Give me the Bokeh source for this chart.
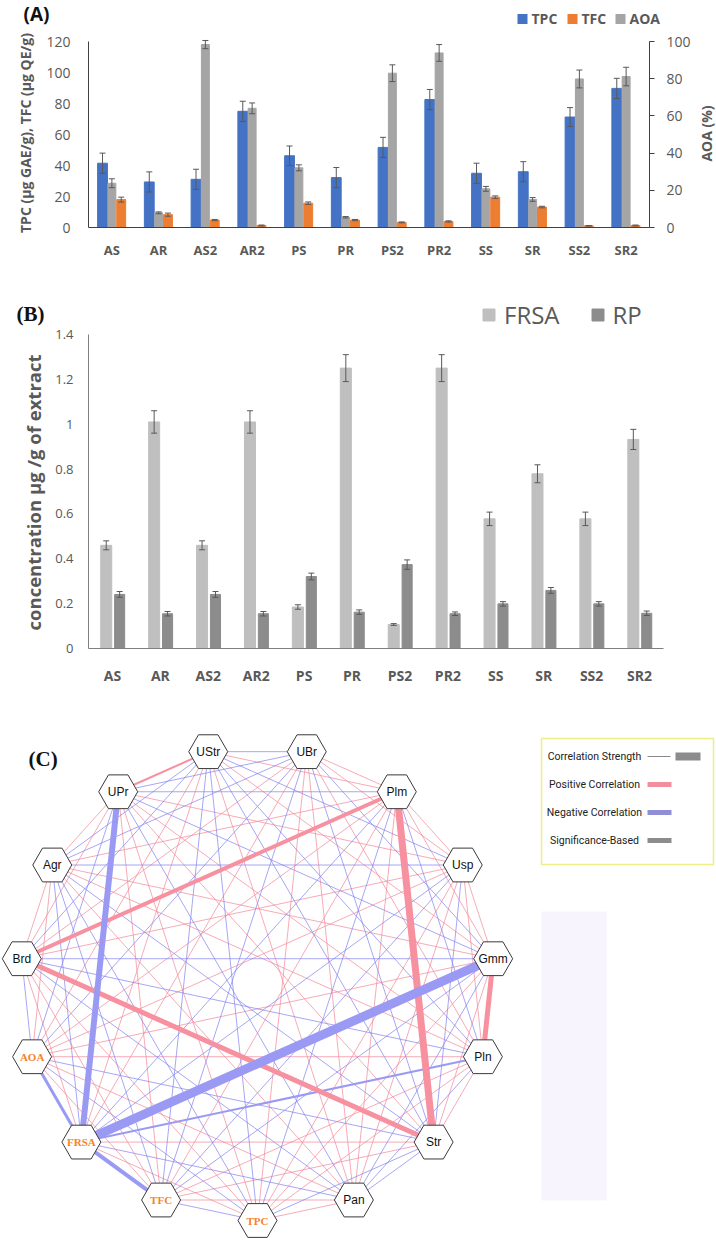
import math
from bokeh.plotting import figure
from bokeh.models import Range1d, LinearAxis, FixedTicker, Legend, LegendItem
from bokeh.layouts import column, row
from bokeh.embed import file_html
from bokeh.resources import INLINE
from bokeh.core.properties import value

# ---------------- data ----------------
samples = ["AS", "AR", "AS2", "AR2", "PS", "PR", "PS2", "PR2", "SS", "SR", "SS2", "SR2"]

# Panel A
series_a = ["TPC", "TFC", "AOA"]
tpc = [41.5, 29.4, 31.1, 75.0, 46.3, 32.2, 51.7, 82.6, 35.0, 36.0, 71.3, 89.8]
tpc_err = [6.5, 6.5, 6.5, 6.5, 6.3, 6.5, 6.5, 6.5, 6.5, 6.5, 6.1, 6.5]
tfc = [18.0, 8.3, 4.8, 1.3, 15.7, 4.8, 3.3, 3.9, 19.6, 13.2, 1.1, 1.3]
tfc_err = [1.6, 1.0, 0.4, 0.3, 0.8, 0.4, 0.3, 0.4, 0.8, 0.5, 0.2, 0.3]
aoa = [23.8, 7.9, 98.4, 64.1, 32.1, 5.5, 83.0, 93.9, 20.8, 15.1, 79.9, 81.2]
aoa_err = [2.4, 0.5, 2.2, 2.9, 1.6, 0.4, 4.5, 4.5, 1.3, 1.0, 4.8, 5.0]

# Panel B
series_b = ["FRSA", "RP"]
frsa = [0.46, 1.01, 0.46, 1.01, 0.185, 1.25, 0.107, 1.25, 0.578, 0.779, 0.578, 0.932]
frsa_err = [0.02, 0.05, 0.02, 0.05, 0.01, 0.06, 0.004, 0.06, 0.03, 0.04, 0.03, 0.045]
rp = [0.241, 0.155, 0.241, 0.155, 0.321, 0.162, 0.374, 0.155, 0.199, 0.259, 0.199, 0.157]
rp_err = [0.013, 0.01, 0.013, 0.01, 0.015, 0.01, 0.021, 0.008, 0.01, 0.013, 0.01, 0.01]

# Panel C (network, nodes clockwise from top)
nodes = ["UBr", "Plm", "Usp", "Gmm", "Pln", "Str", "Pan", "TPC", "TFC", "FRSA", "AOA", "Brd", "Agr", "UPr", "UStr"]
activity_nodes = ["TPC", "TFC", "FRSA", "AOA"]
# sign of the correlation to every later node in the list (p = positive, n = negative)
edge_signs = [
    "ppnpnppnpnpnnn",
    "ppnppnpnpppnp",
    "ppnppnnppnpn",
    "ppnpnnpnpnp",
    "pnppnpnppn",
    "nnppnpnpn",
    "ppnpnpnp",
    "npnpnpn",
    "nppnpn",
    "npnnp",
    "npnp",
    "ppn",
    "pn",
    "p",
]
strong_r = [
    ("Gmm", "FRSA", -0.98), ("Plm", "Str", 0.91), ("UPr", "FRSA", -0.875),
    ("Brd", "Str", 0.84), ("Gmm", "Pln", 0.84), ("Brd", "Plm", 0.805),
    ("FRSA", "TFC", -0.805), ("AOA", "FRSA", -0.77), ("Pln", "FRSA", -0.735),
    ("UPr", "UStr", 0.735),
]
legend_c = ["Correlation Strength", "Positive Correlation", "Negative Correlation", "Significance-Based"]

GREY = "#595959"
AXIS = "#404040"
W = 716
n = len(samples)
centers = [i + 0.5 for i in range(n)]
overrides = {c: s for c, s in zip(centers, samples)}


def noalign(f):
    try:
        f.frame_align = False
    except Exception:
        pass
    return f


def header(h, w=W):
    f = figure(width=w, height=h, x_range=Range1d(0, w), y_range=Range1d(h, 0),
               output_backend="svg", toolbar_location=None, x_axis_type=None, y_axis_type=None,
               min_border=0)
    f.xgrid.visible = False
    f.ygrid.visible = False
    f.outline_line_color = None
    return noalign(f)


def add_err(p, xs, ys, es, range_name="default"):
    lo = [y - e for y, e in zip(ys, es)]
    hi = [y + e for y, e in zip(ys, es)]
    p.segment(x0=xs, y0=lo, x1=xs, y1=hi, line_color=GREY, line_width=1, y_range_name=range_name)
    p.scatter(x=list(xs) + list(xs), y=lo + hi, marker="dash", size=6, line_color=GREY,
              line_width=1, y_range_name=range_name)


def style_axis(ax, size, bold=False, standoff=10, color=AXIS):
    ax.major_tick_out = 0
    ax.major_tick_in = 0
    ax.minor_tick_line_color = None
    ax.axis_line_color = color
    ax.major_label_text_font = "Open Sans"
    ax.major_label_text_font_size = size
    ax.major_label_text_color = GREY
    ax.major_label_standoff = standoff
    if bold:
        ax.major_label_text_font_style = "bold"


# ---------------- Panel A header ----------------
ha = header(28)
ha.text(x=[23], y=[0], text=["(A)"], text_align="left", text_baseline="top",
        text_font=value("Open Sans"), text_font_style="bold", text_font_size="19px", text_color="#111111")
cols_a = {"TPC": "#4472c4", "TFC": "#ed7d31", "AOA": "#a5a5a5"}
leg_x_a = [517, 567, 615]
ha.quad(left=leg_x_a, right=[x + 10 for x in leg_x_a], top=[13.5] * 3, bottom=[23.5] * 3,
        fill_color=[cols_a[s] for s in series_a], line_color=None)
ha.text(x=[x + 14 for x in leg_x_a], y=[18] * 3, text=series_a, text_align="left", text_baseline="middle",
        text_font=value("Open Sans"), text_font_style="bold", text_font_size="14px", text_color=GREY)

# ---------------- Panel A ----------------
HA = 234
pa = figure(width=698, height=HA, x_range=Range1d(0, n), y_range=Range1d(0, 122),
            output_backend="svg", toolbar_location=None,
            min_border_left=88, min_border_right=49, min_border_top=10, min_border_bottom=35)
noalign(pa)
pa.extra_y_ranges = {"aoa": Range1d(0, 122 * 100 / 120)}
pa.xgrid.visible = False
pa.ygrid.visible = False
pa.outline_line_color = None

xa_tpc = [c - 0.2 for c in centers]
xa_tfc = [c + 0.2 for c in centers]
pa.vbar(x=xa_tpc, top=tpc, width=0.21, color=cols_a["TPC"])
pa.vbar(x=centers, top=aoa, width=0.17, color=cols_a["AOA"], y_range_name="aoa")
pa.vbar(x=xa_tfc, top=tfc, width=0.19, color=cols_a["TFC"])
add_err(pa, xa_tpc, tpc, tpc_err)
add_err(pa, centers, aoa, aoa_err, "aoa")
add_err(pa, xa_tfc, tfc, tfc_err)

la = pa.yaxis[0]
la.ticker = FixedTicker(ticks=[0, 20, 40, 60, 80, 100, 120])
la.bounds = (0, 120)
style_axis(la, "14px", standoff=18)
la.axis_label = "TPC (µg GAE/g), TFC (µg QE/g)"
la.axis_label_text_font = "Open Sans"
la.axis_label_text_font_style = "bold"
la.axis_label_text_font_size = "14px"
la.axis_label_text_color = GREY
la.axis_label_standoff = 8

xa = pa.xaxis[0]
xa.ticker = FixedTicker(ticks=centers)
xa.major_label_overrides = overrides
style_axis(xa, "13px", bold=True, standoff=13)

ra = LinearAxis(y_range_name="aoa", ticker=FixedTicker(ticks=[0, 20, 40, 60, 80, 100]))
ra.bounds = (0, 100)
style_axis(ra, "14px", standoff=12)
ra.major_tick_out = 5
ra.major_tick_line_color = AXIS
pa.add_layout(ra, "right")

# right-hand axis title, reading upwards
sa = header(HA, 18)
sa.text(x=[8], y=[105], text=["AOA (%)"], angle=math.pi / 2, text_align="center", text_baseline="middle",
        text_font=value("Open Sans"), text_font_style="bold", text_font_size="14px", text_color=GREY)

# ---------------- Panel B ----------------
HB = 433
sb = header(HB, 46)
sb.text(x=[16], y=[39], text=["(B)"], text_align="left", text_baseline="top",
        text_font=value("Liberation Serif"), text_font_style="bold", text_font_size="21px", text_color="#111111")
sb.text(x=[33], y=[230], text=["concentration µg /g of extract"], angle=math.pi / 2,
        text_align="center", text_baseline="middle", text_font=value("Open Sans"),
        text_font_style="bold", text_font_size="18.5px", text_color=GREY)

pb = figure(width=670, height=HB, x_range=Range1d(0, n), y_range=Range1d(0, 1.7209),
            output_backend="svg", toolbar_location=None,
            min_border_left=42, min_border_right=53, min_border_top=0, min_border_bottom=47)
noalign(pb)
pb.xgrid.visible = False
pb.ygrid.visible = False
pb.outline_line_color = None

cols_b = {"FRSA": "#bfbfbf", "RP": "#8c8c8c"}
xb_f = [c - 0.13 for c in centers]
xb_r = [c + 0.15 for c in centers]
r_frsa = pb.vbar(x=xb_f, top=frsa, width=0.23, color=cols_b["FRSA"])
r_rp = pb.vbar(x=xb_r, top=rp, width=0.21, color=cols_b["RP"])
add_err(pb, xb_f, frsa, frsa_err)
add_err(pb, xb_r, rp, rp_err)

lb = pb.yaxis[0]
lb.ticker = FixedTicker(ticks=[0, 0.2, 0.4, 0.6, 0.8, 1, 1.2, 1.4])
lb.bounds = (0, 1.4)
lb.major_label_overrides = {0: "0", 1: "1"}
style_axis(lb, "13px", standoff=15, color="#7f7f7f")

xb = pb.xaxis[0]
xb.ticker = FixedTicker(ticks=centers)
xb.major_label_overrides = overrides
style_axis(xb, "14px", bold=True, standoff=17, color="#7f7f7f")

leg_b = Legend(items=[LegendItem(label=series_b[0], renderers=[r_frsa]),
                      LegendItem(label=series_b[1], renderers=[r_rp])],
               location=(393, 317), orientation="horizontal",
               border_line_color=None, background_fill_alpha=0,
               padding=0, margin=0, spacing=30, label_standoff=8,
               glyph_width=15, glyph_height=15, label_height=26,
               label_text_font="Open Sans", label_text_font_size="24px",
               label_text_color=GREY)
pb.add_layout(leg_b)

# ---------------- Panel C ----------------
HC = 544
pc = header(HC)

cx, cy, R = 257, 288, 237
m = len(nodes)
pos = {}
for k, name in enumerate(nodes):
    th = math.radians(360.0 * (k + 0.5) / m)
    pos[name] = (cx + R * math.sin(th), cy - R * math.cos(th))

PINK, BLUE = "#f28a9b", "#8585ef"
strong_lookup = {frozenset((a, b)): r for a, b, r in strong_r}

thin = {"p": ([], [], [], []), "n": ([], [], [], [])}
for i, row_s in enumerate(edge_signs):
    for off, s in enumerate(row_s):
        j = i + 1 + off
        a, b = nodes[i], nodes[j]
        if frozenset((a, b)) in strong_lookup:
            continue
        x0, y0 = pos[a]
        x1, y1 = pos[b]
        for lst, v in zip(thin[s], (x0, y0, x1, y1)):
            lst.append(v)
for s, col in (("p", PINK), ("n", BLUE)):
    x0, y0, x1, y1 = thin[s]
    pc.segment(x0=x0, y0=y0, x1=x1, y1=y1, line_color=col, line_width=0.9, line_alpha=0.8)

for a, b, r in sorted(strong_r, key=lambda t: abs(t[2])):
    w = 1 + (abs(r) - 0.7) * 8 / 0.28
    col = "#f7909f" if r > 0 else "#9a9af4"
    (x0, y0), (x1, y1) = pos[a], pos[b]
    pc.segment(x0=[x0], y0=[y0], x1=[x1], y1=[y1], line_color=col, line_width=w)

nx = [pos[nm][0] for nm in nodes]
ny = [pos[nm][1] for nm in nodes]
pc.scatter(x=nx, y=ny, marker="hex", size=39, fill_color="white", line_color="#3a3a3a", line_width=1)

plain = [nm for nm in nodes if nm not in activity_nodes]
act = [nm for nm in nodes if nm in activity_nodes]
pc.text(x=[pos[nm][0] for nm in plain], y=[pos[nm][1] for nm in plain], text=plain,
        text_align="center", text_baseline="middle", text_font=value("Liberation Sans"),
        text_font_size="12px", text_color="#111111")
pc.text(x=[pos[nm][0] for nm in act], y=[pos[nm][1] for nm in act], text=act,
        text_align="center", text_baseline="middle", text_font=value("Liberation Serif"),
        text_font_style="bold", text_font_size="11px", text_color="#f5822a")

# legend box of the network
pc.quad(left=[541], right=[606], top=[216], bottom=[505], fill_color="#f8f4fe", line_color=None)
pc.quad(left=[541], right=[713], top=[43], bottom=[169], fill_color=None, line_color="#eeee88", line_width=1.5)
ly = [61, 89, 117, 145]
pc.text(x=[594] * 4, y=ly, text=legend_c, text_align="center", text_baseline="middle",
        text_font=value("Roboto"), text_font_size="10.5px", text_color="#222222")
pc.segment(x0=[647], y0=[ly[0]], x1=[670], y1=[ly[0]], line_color="#888888", line_width=1)
pc.quad(left=[675], right=[700], top=[ly[0] - 4], bottom=[ly[0] + 4], fill_color="#8c8c8c", line_color=None)
pc.segment(x0=[647] * 3, y0=ly[1:], x1=[671] * 3, y1=ly[1:],
           line_color=["#f28e9e", "#8f8fd6", "#8c8c8c"], line_width=5)

pc.text(x=[28], y=[51], text=["(C)"], text_align="left", text_baseline="top",
        text_font=value("Liberation Serif"), text_font_style="bold", text_font_size="21px", text_color="#111111")

layout = column(ha, row(pa, sa, spacing=0), row(sb, pb, spacing=0), pc, spacing=0)
open("out.html", "w").write(file_html(layout, INLINE))
